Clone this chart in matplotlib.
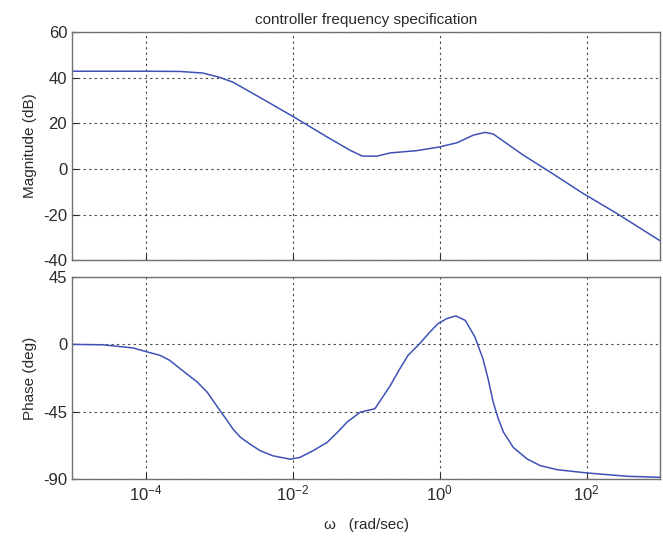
import numpy as np
import matplotlib
matplotlib.use("Agg")
import matplotlib.pyplot as plt
from matplotlib.ticker import NullLocator

plt.rcParams['font.family'] = ['Liberation Sans', 'DejaVu Sans']
plt.rcParams['mathtext.fontset'] = 'custom'
plt.rcParams['mathtext.rm'] = 'Liberation Sans'
plt.rcParams['mathtext.it'] = 'Liberation Sans'
plt.rcParams['axes.unicode_minus'] = False

# magnitude curve (log10 of frequency, dB)
mag_logw = [-5.0, -4.0, -3.53, -3.22, -3.0, -2.81, -2.4, -1.99, -1.53, -1.22,
            -1.05, -0.85, -0.67, -0.31, 0.0, 0.24, 0.46, 0.62, 0.73, 1.14,
            1.50, 1.95, 2.41, 3.0]
mag_db = [42.8, 42.8, 42.7, 42.0, 40.2, 38.0, 30.5, 22.9, 14.0, 8.2,
          5.6, 5.6, 7.0, 8.0, 9.6, 11.5, 14.8, 16.0, 15.3, 6.0,
          -1.3, -10.7, -19.5, -31.5]

# phase curve (log10 of frequency, degrees)
ph_logw = [-5.0, -4.58, -4.17, -3.98, -3.80, -3.67, -3.44, -3.30, -3.16, -2.99,
           -2.89, -2.81, -2.71, -2.58, -2.44, -2.27, -2.03, -1.90, -1.72, -1.53,
           -1.39, -1.26, -1.08, -0.88, -0.67, -0.54, -0.43, -0.27, -0.13, -0.02,
           0.10, 0.22, 0.35, 0.48, 0.59, 0.66, 0.73, 0.80, 0.87, 0.96,
           1.0, 1.19, 1.37, 1.60, 2.01, 2.55, 3.0]
ph_deg = [0.0, -0.3, -2.4, -5.0, -7.4, -10.7, -19.7, -25.0, -32.0, -44.0,
          -50.8, -56.6, -62.0, -66.6, -71.0, -74.4, -76.7, -75.5, -71.0, -65.5,
          -58.8, -52.0, -45.3, -43.0, -27.5, -16.3, -7.4, 0.5, 8.3, 13.9,
          17.2, 19.0, 16.0, 5.0, -9.6, -23.0, -38.6, -49.8, -58.7, -65.5,
          -68.7, -76.5, -81.0, -83.7, -85.9, -88.1, -88.8]

line_color = '#3f51b5'
txt_color = '#2a2a2a'
spine_color = '#707070'

fig = plt.figure(figsize=(6.63, 5.42), dpi=100)
ax1 = fig.add_axes([0.1086, 0.520, 0.887, 0.421])
ax2 = fig.add_axes([0.1086, 0.116, 0.887, 0.373])

ax1.plot(10 ** np.array(mag_logw), mag_db, color=line_color, lw=1.1)
ax2.plot(10 ** np.array(ph_logw), ph_deg, color=line_color, lw=1.1)

for ax in (ax1, ax2):
    ax.set_xscale('log')
    ax.set_xlim(1e-5, 1e3)
    ax.set_xticks([1e-4, 1e-2, 1e0, 1e2])
    ax.xaxis.set_minor_locator(NullLocator())
    ax.grid(True, color='#444444', linestyle=(0, (2, 3)), linewidth=0.8)
    ax.tick_params(direction='in', labelsize=12, colors=txt_color, length=4)
    for s in ax.spines.values():
        s.set_color(spine_color)
        s.set_linewidth(1.0)

ax1.set_ylim(-40, 60)
ax1.set_yticks([-40, -20, 0, 20, 40, 60])
ax1.tick_params(labelbottom=False)
ax1.set_ylabel('Magnitude (dB)', fontsize=11, color=txt_color)
ax1.set_title('controller frequency specification', fontsize=11, color=txt_color)

ax2.set_ylim(-90, 45)
ax2.set_yticks([-90, -45, 0, 45])
ax2.set_ylabel('Phase (deg)', fontsize=11, color=txt_color)
ax2.set_xlabel('ω   (rad/sec)', fontsize=11, color=txt_color, labelpad=10)

fig.savefig('out.png', dpi=100)
